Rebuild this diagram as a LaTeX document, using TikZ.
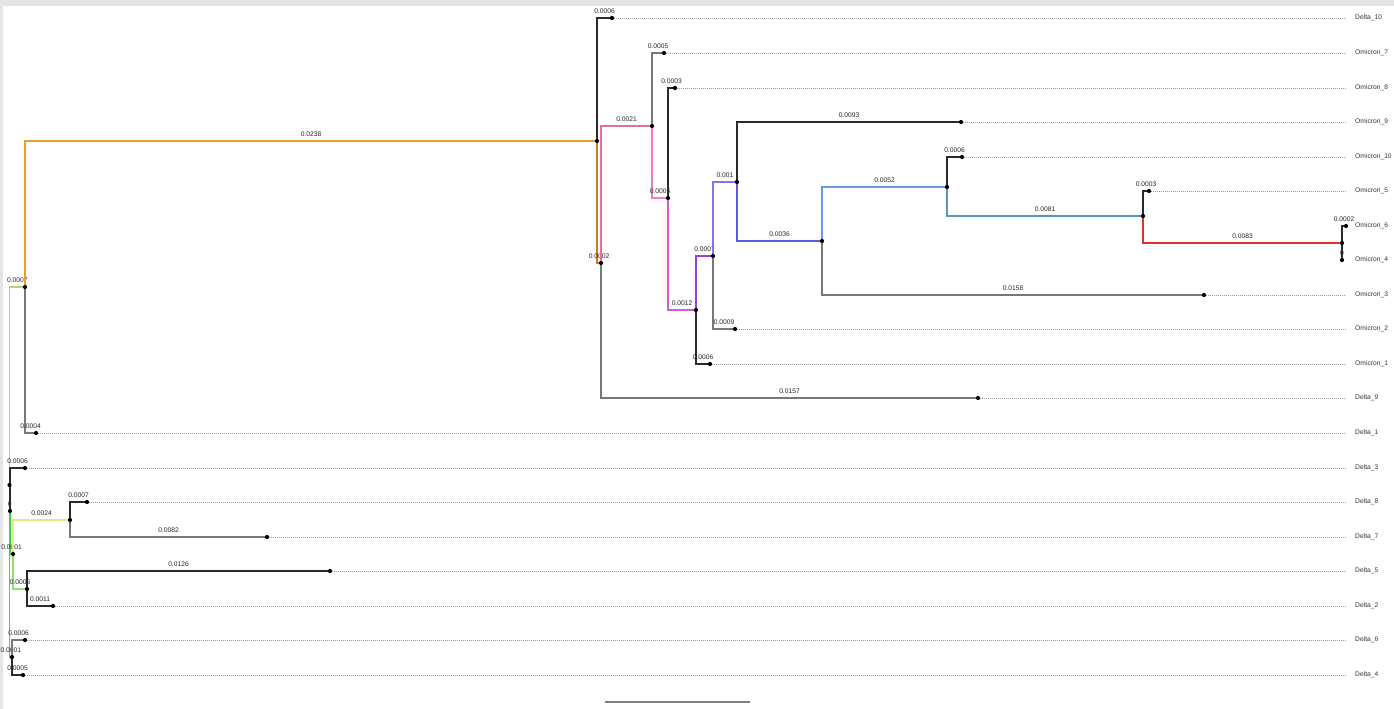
\documentclass[tikz,border=0pt]{standalone}
\usepackage{fontspec}
\setmainfont{Liberation Sans}
\usetikzlibrary{calc}

\definecolor{frame}{HTML}{E5E5E5}
\definecolor{cYg}{HTML}{B4D66C}
\definecolor{cOr}{HTML}{E2A22C}
\definecolor{cBr}{HTML}{C67A34}
\definecolor{cPk}{HTML}{E0709A}
\definecolor{cLp}{HTML}{F07CC8}
\definecolor{cMg}{HTML}{D45CD6}
\definecolor{cPu}{HTML}{9444D2}
\definecolor{cLv}{HTML}{8C70E8}
\definecolor{cBl}{HTML}{5A5ADE}
\definecolor{cLb}{HTML}{6A9AE6}
\definecolor{cSt}{HTML}{5A90C2}
\definecolor{cRd}{HTML}{E03232}
\definecolor{cDg}{HTML}{4F7A4F}
\definecolor{cGr}{HTML}{44D044}
\definecolor{cPy}{HTML}{E6E68E}
\definecolor{cLg}{HTML}{92E072}
\definecolor{cG2}{HTML}{52D052}
\definecolor{cK}{HTML}{2A2A2A}
\definecolor{cGy}{HTML}{777777}

\begin{document}
\begin{tikzpicture}[x=1pt, y=-1pt,
  edge/.style={line width=1.1pt},
  guide/.style={draw=black!40, line width=0.5pt, dash pattern=on 0.6pt off 1.4pt},
  blen/.style={font=\fontsize{6.7}{7}\selectfont, text=black!85, inner sep=1pt, above=3pt, pos=0.75},
  taxon/.style={font=\fontsize{6.7}{7}\selectfont, text=black!80, anchor=west, inner sep=1pt}]

\useasboundingbox (0,0) rectangle (1394,709);
\fill[frame] (0,0) rectangle (1394,6);
\fill[frame] (0,0) rectangle (3,709);

% internal nodes
\coordinate (R) at (9.5,485);
\coordinate (A) at (25,287);
\coordinate (B) at (597,141);
\coordinate (C) at (601,263);
\coordinate (D) at (652,126);
\coordinate (E) at (668,198);
\coordinate (F) at (696,310);
\coordinate (G) at (713,256);
\coordinate (H) at (737,182);
\coordinate (I) at (822,241);
\coordinate (J) at (947,187);
\coordinate (K) at (1143,216);
\coordinate (L) at (1342,243);
\coordinate (M) at (10,511);
\coordinate (N) at (13,554);
\coordinate (P) at (70,520);
\coordinate (Q) at (27,589);
\coordinate (S) at (12,657);

% tips
\coordinate (d10) at (612,18);
\coordinate (o7) at (664,53);
\coordinate (o8) at (675,88);
\coordinate (o9) at (961,122);
\coordinate (o10) at (962,157);
\coordinate (o5) at (1149,191);
\coordinate (o6) at (1346,226);
\coordinate (o4) at (1342,260);
\coordinate (o3) at (1204,295);
\coordinate (o2) at (735,329);
\coordinate (o1) at (710,364);
\coordinate (d9) at (978,398);
\coordinate (d1) at (36,433);
\coordinate (d3) at (25,468);
\coordinate (d8) at (87,502);
\coordinate (d7) at (267,537);
\coordinate (d5) at (330,571);
\coordinate (d2) at (53,606);
\coordinate (d6) at (25,640);
\coordinate (d4) at (23,675);

% tip labels
\node[taxon] (ld10) at (1354,18) {Delta\_10};
\node[taxon] (lo7) at (1354,53) {Omicron\_7};
\node[taxon] (lo8) at (1354,88) {Omicron\_8};
\node[taxon] (lo9) at (1354,122) {Omicron\_9};
\node[taxon] (lo10) at (1354,157) {Omicron\_10};
\node[taxon] (lo5) at (1354,191) {Omicron\_5};
\node[taxon] (lo6) at (1354,226) {Omicron\_6};
\node[taxon] (lo4) at (1354,260) {Omicron\_4};
\node[taxon] (lo3) at (1354,295) {Omicron\_3};
\node[taxon] (lo2) at (1354,329) {Omicron\_2};
\node[taxon] (lo1) at (1354,364) {Omicron\_1};
\node[taxon] (ld9) at (1354,398) {Delta\_9};
\node[taxon] (ld1) at (1354,433) {Delta\_1};
\node[taxon] (ld3) at (1354,468) {Delta\_3};
\node[taxon] (ld8) at (1354,502) {Delta\_8};
\node[taxon] (ld7) at (1354,537) {Delta\_7};
\node[taxon] (ld5) at (1354,571) {Delta\_5};
\node[taxon] (ld2) at (1354,606) {Delta\_2};
\node[taxon] (ld6) at (1354,640) {Delta\_6};
\node[taxon] (ld4) at (1354,675) {Delta\_4};

% dotted guides to the labels
\foreach \t in {d10,o7,o8,o9,o10,o5,o3,o2,o1,d9,d1,d3,d8,d7,d5,d2,d6,d4}
  \draw[guide] (\t) -- ($(\t -| l\t.west)+(-8,0)$);

% branches
\draw[edge, cYg] (R) |- node[blen] {0.0007} (A);
\draw[edge, cOr] (A) |- node[blen] {0.0238} (B);
\draw[edge, cGy] (A) |- node[blen] {0.0004} (d1);
\draw[edge, cK] (B) |- node[blen] {0.0006} (d10);
\draw[edge, cBr] (B) |- node[blen] {0.0002} (C);
\draw[edge, cPk] (C) |- node[blen] {0.0021} (D);
\draw[edge, cGy] (C) |- node[blen] {0.0157} (d9);
\draw[edge, cGy] (D) |- node[blen] {0.0005} (o7);
\draw[edge, cLp] (D) |- node[blen] {0.0006} (E);
\draw[edge, cK] (E) |- node[blen] {0.0003} (o8);
\draw[edge, cMg] (E) |- node[blen] {0.0012} (F);
\draw[edge, cPu] (F) |- node[blen] {0.0007} (G);
\draw[edge, cK] (F) |- node[blen] {0.0006} (o1);
\draw[edge, cLv] (G) |- node[blen] {0.001} (H);
\draw[edge, cGy] (G) |- node[blen] {0.0009} (o2);
\draw[edge, cK] (H) |- node[blen] {0.0093} (o9);
\draw[edge, cBl] (H) |- node[blen] {0.0036} (I);
\draw[edge, cLb] (I) |- node[blen] {0.0052} (J);
\draw[edge, cGy] (I) |- node[blen] {0.0158} (o3);
\draw[edge, cK] (J) |- node[blen] {0.0006} (o10);
\draw[edge, cSt] (J) |- node[blen] {0.0081} (K);
\draw[edge, cK] (K) |- node[blen] {0.0003} (o5);
\draw[edge, cRd] (K) |- node[blen] {0.0083} (L);
\draw[edge, cK] (L) |- node[blen] {0.0002} (o6);
\draw[edge, cK] (L) |- node[blen] {0} (o4);
\draw[edge, cG2] (R) |- node[blen] {0.0001} (S);
\draw[edge, cDg] (R) |- node[blen] {0} (M);
\draw[edge, cK] (M) |- node[blen] {0.0006} (d3);
\draw[edge, cGr] (M) |- node[blen] {0.0001} (N);
\draw[edge, cPy] (N) |- node[blen] {0.0024} (P);
\draw[edge, cLg] (N) |- node[blen] {0.0006} (Q);
\draw[edge, cK] (P) |- node[blen] {0.0007} (d8);
\draw[edge, cGy] (P) |- node[blen] {0.0082} (d7);
\draw[edge, cK] (Q) |- node[blen] {0.0126} (d5);
\draw[edge, cK] (Q) |- node[blen] {0.0011} (d2);
\draw[edge, cGy] (S) |- node[blen] {0.0006} (d6);
\draw[edge, cK] (S) |- node[blen] {0.0005} (d4);

% node points
\foreach \n in {R,A,B,C,D,E,F,G,H,I,J,K,L,M,N,P,Q,S,d10,o7,o8,o9,o10,o5,o6,o4,o3,o2,o1,d9,d1,d3,d8,d7,d5,d2,d6,d4}
  \fill (\n) circle (2.1pt);

% scale bar
\coordinate (sb1) at (605,702);
\coordinate (sb2) at (750,702);
\draw[line width=1.2pt, black!50] (sb1) -- (sb2);

\end{tikzpicture}
\end{document}
